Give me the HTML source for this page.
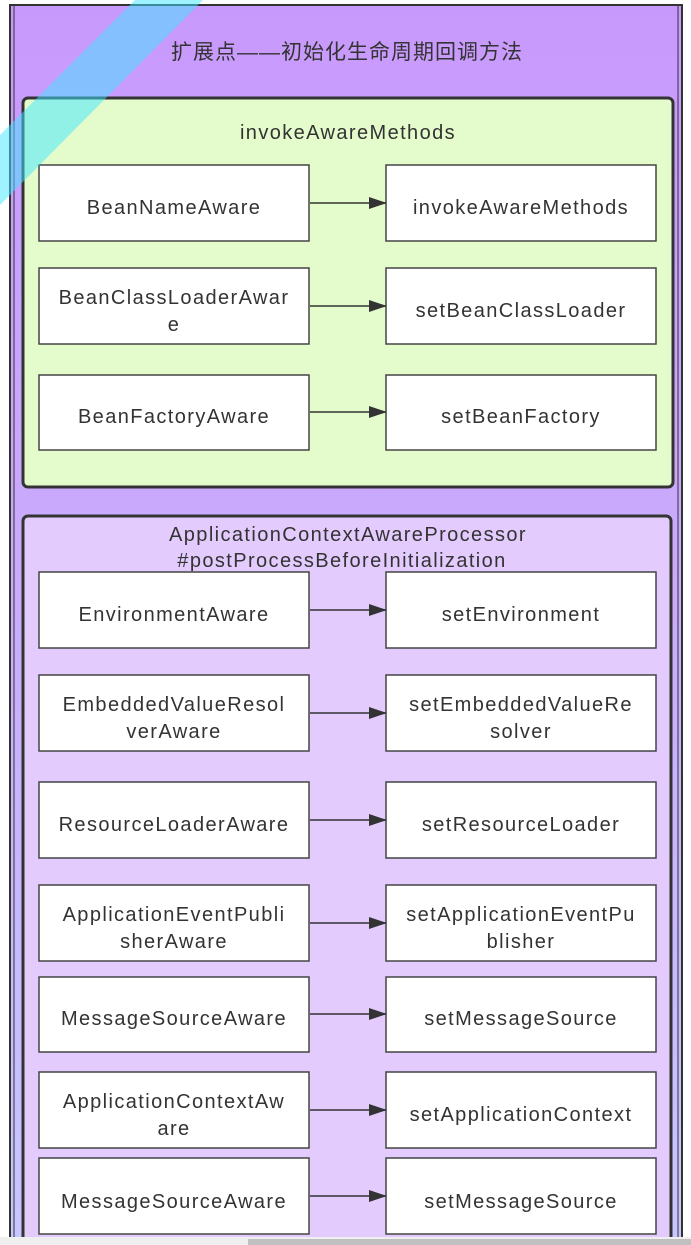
<!DOCTYPE html>
<html><head><meta charset="utf-8"><style>
html,body{margin:0;padding:0;background:#fff;}
svg{display:block}
text{font-family:"Liberation Sans","Noto Sans CJK SC",sans-serif;font-size:20px;letter-spacing:1.4px;fill:#333;text-anchor:middle}
</style></head><body>
<svg width="691" height="1245" viewBox="0 0 691 1245" xmlns="http://www.w3.org/2000/svg">
<defs>
<linearGradient id="og" x1="0" y1="0" x2="0" y2="1">
<stop offset="0" stop-color="#c899fc"/><stop offset="0.45" stop-color="#c9abfc"/><stop offset="1" stop-color="#c8c6ff"/>
</linearGradient>
<marker id="ah" markerWidth="18" markerHeight="12" refX="17" refY="6" orient="auto" markerUnits="userSpaceOnUse">
<path d="M0,0 L18,6 L0,12 Z" fill="#333"/>
</marker>
</defs>
<rect x="0" y="0" width="691" height="1245" fill="#fff"/>
<rect x="10" y="5" width="672" height="1240" fill="url(#og)" stroke="#333" stroke-width="2"/>
<line x1="14" y1="5" x2="14" y2="1237" stroke="#333" stroke-width="1"/>
<line x1="678" y1="5" x2="678" y2="1237" stroke="#333" stroke-width="1"/>
<text x="347" y="59" style="font-size:21px;letter-spacing:1px">扩展点——初始化生命周期回调方法</text>

<rect x="23" y="98" width="650" height="389" rx="5" fill="#e4fccc" stroke="#333" stroke-width="3"/>
<text x="348" y="139">invokeAwareMethods</text>

<rect x="23" y="516" width="648" height="740" rx="5" fill="#e3cbfe" stroke="#333" stroke-width="3"/>
<text x="348" y="541">ApplicationContextAwareProcessor</text>
<text x="342" y="567">#postProcessBeforeInitialization</text>

<g stroke="#444" stroke-width="1.5" fill="#fff">
<rect x="39" y="165" width="270" height="76"/><rect x="386" y="165" width="270" height="76"/>
<rect x="39" y="268" width="270" height="76"/><rect x="386" y="268" width="270" height="76"/>
<rect x="39" y="375" width="270" height="75"/><rect x="386" y="375" width="270" height="75"/>
<rect x="39" y="572" width="270" height="76"/><rect x="386" y="572" width="270" height="76"/>
<rect x="39" y="675" width="270" height="76"/><rect x="386" y="675" width="270" height="76"/>
<rect x="39" y="782" width="270" height="76"/><rect x="386" y="782" width="270" height="76"/>
<rect x="39" y="885" width="270" height="76"/><rect x="386" y="885" width="270" height="76"/>
<rect x="39" y="977" width="270" height="75"/><rect x="386" y="977" width="270" height="75"/>
<rect x="39" y="1072" width="270" height="76"/><rect x="386" y="1072" width="270" height="76"/>
<rect x="39" y="1158" width="270" height="76"/><rect x="386" y="1158" width="270" height="76"/>
</g>
<g stroke="#333" stroke-width="1.5" marker-end="url(#ah)">
<line x1="310" y1="203" x2="386" y2="203"/>
<line x1="310" y1="306" x2="386" y2="306"/>
<line x1="310" y1="412" x2="386" y2="412"/>
<line x1="310" y1="610" x2="386" y2="610"/>
<line x1="310" y1="713" x2="386" y2="713"/>
<line x1="310" y1="820" x2="386" y2="820"/>
<line x1="310" y1="923" x2="386" y2="923"/>
<line x1="310" y1="1014" x2="386" y2="1014"/>
<line x1="310" y1="1110" x2="386" y2="1110"/>
<line x1="310" y1="1196" x2="386" y2="1196"/>
</g>
<text x="174" y="214">BeanNameAware</text><text x="521" y="214">invokeAwareMethods</text>
<text x="174" y="304">BeanClassLoaderAwar</text><text x="174" y="331">e</text><text x="521" y="317">setBeanClassLoader</text>
<text x="174" y="423">BeanFactoryAware</text><text x="521" y="423">setBeanFactory</text>
<text x="174" y="621">EnvironmentAware</text><text x="521" y="621">setEnvironment</text>
<text x="174" y="711">EmbeddedValueResol</text><text x="174" y="738">verAware</text>
<text x="521" y="711">setEmbeddedValueRe</text><text x="521" y="738">solver</text>
<text x="174" y="831">ResourceLoaderAware</text><text x="521" y="831">setResourceLoader</text>
<text x="174" y="921">ApplicationEventPubli</text><text x="174" y="948">sherAware</text>
<text x="521" y="921">setApplicationEventPu</text><text x="521" y="948">blisher</text>
<text x="174" y="1025">MessageSourceAware</text><text x="521" y="1025">setMessageSource</text>
<text x="174" y="1108">ApplicationContextAw</text><text x="174" y="1135">are</text><text x="521" y="1121">setApplicationContext</text>
<text x="174" y="1208">MessageSourceAware</text><text x="521" y="1208">setMessageSource</text>

<polygon points="135,0 203,0 0,205 0,135" fill="#3fe6ff" fill-opacity="0.5"/>
<rect x="0" y="1237" width="691" height="8" fill="#efefef"/>
<rect x="248" y="1239" width="443" height="6" fill="#c0c0c0"/>
</svg>
</body></html>
